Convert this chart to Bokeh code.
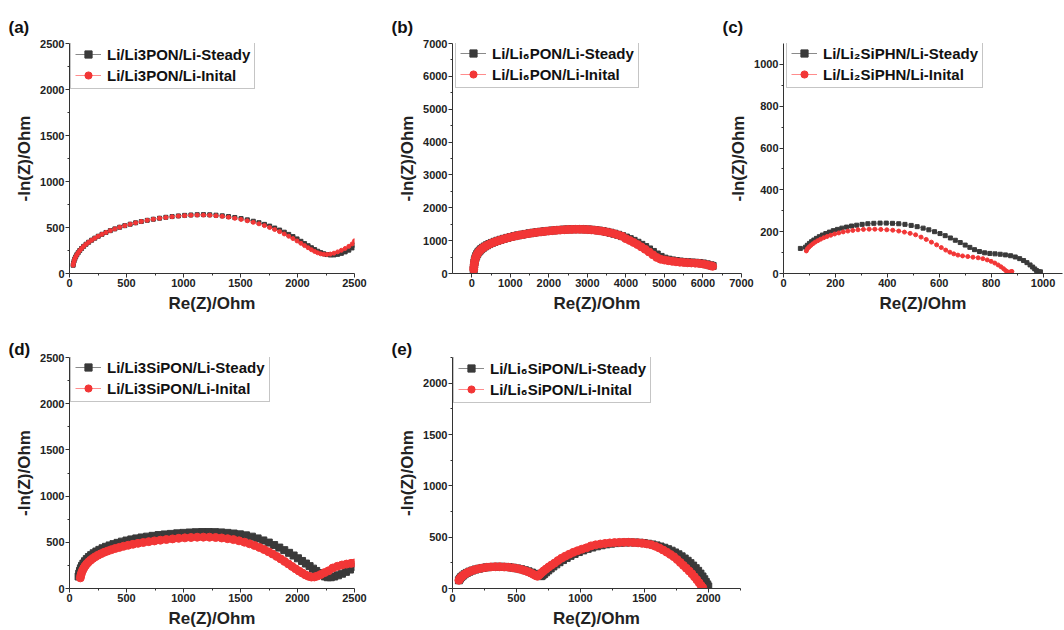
from bokeh.plotting import figure
from bokeh.layouts import row, column
from bokeh.models import FixedTicker, Range1d
from bokeh.embed import file_html
from bokeh.resources import INLINE

FONT = "Liberation Sans"
BLACK = "#3a3a3a"
RED = "#f23636"
BLACK_LINE = "#8a8a8a"
RED_LINE = "#ff8c8c"

# ---------------- (a) Li/Li3PON/Li ----------------
a_steady_x = [32, 35, 40, 46, 54, 64, 76, 90, 106, 124, 145, 168, 194, 222, 252, 285, 320, 358, 398, 440,
              485, 532, 580, 630, 682, 735, 790, 845, 900, 955, 1010, 1065, 1120, 1175, 1230, 1285, 1340,
              1395, 1450, 1505, 1560, 1612, 1662, 1710, 1756, 1800, 1843, 1884, 1923, 1960, 1996, 2030,
              2062, 2093, 2122, 2150, 2177, 2203, 2230, 2258, 2288, 2320, 2352, 2385, 2418, 2450, 2480, 2500]
a_steady_y = [90, 112, 135, 158, 180, 203, 226, 250, 272, 295, 318, 340, 362, 384, 405, 426, 446, 466, 485, 503,
              520, 536, 551, 565, 578, 590, 601, 611, 619, 626, 632, 636, 639, 640, 638, 634, 627,
              619, 609, 597, 583, 568, 552, 534, 515, 494, 472, 449, 425, 401, 376, 350,
              325, 302, 280, 260, 242, 227, 215, 206, 201, 202, 208, 219, 235, 254, 278, 308]
a_init_x = [32, 35, 40, 46, 54, 64, 76, 90, 106, 124, 145, 168, 194, 222, 252, 285, 320, 358, 398, 440,
            485, 532, 580, 630, 682, 735, 790, 845, 900, 955, 1010, 1065, 1120, 1175, 1230, 1285, 1340,
            1395, 1450, 1505, 1560, 1612, 1662, 1710, 1756, 1800, 1843, 1884, 1923, 1960, 1996, 2030,
            2062, 2093, 2122, 2150, 2177, 2203, 2230, 2258, 2288, 2320, 2352, 2385, 2418, 2450, 2480, 2500]
a_init_y = [90, 112, 135, 158, 180, 203, 226, 250, 272, 295, 318, 340, 362, 384, 405, 426, 446, 466, 485, 503,
            520, 536, 551, 565, 578, 590, 600, 609, 617, 624, 629, 633, 635, 635, 633, 628, 621,
            612, 600, 588, 573, 556, 540, 521, 500, 478, 455, 430, 405, 380, 354, 328,
            303, 280, 259, 240, 225, 214, 208, 207, 211, 221, 235, 252, 272, 295, 322, 355]

# ---------------- (b) Li/Li6PON/Li ----------------
b_x = [50, 55, 62, 70, 80, 95, 115, 140, 170, 205, 245, 290, 340, 395, 455, 520, 590, 665, 745, 830, 920,
       1010, 1105, 1200, 1300, 1400, 1500, 1600, 1700, 1800, 1900, 2000, 2100, 2200, 2300, 2400, 2500,
       2600, 2700, 2800, 2900, 3000, 3100, 3200, 3300, 3400, 3500, 3600, 3700, 3800, 3900, 4000, 4100,
       4200, 4300, 4400, 4500, 4600, 4700, 4800, 4900, 5000, 5100, 5200, 5300, 5400, 5500, 5600, 5700,
       5800, 5900, 6000, 6100, 6200, 6250]
b_steady_y = [125, 195, 265, 335, 400, 465, 530, 590, 645, 695, 740, 783, 823, 860, 895, 930, 963, 995,
              1025, 1055, 1084, 1111, 1137, 1161, 1183, 1204, 1224, 1242, 1258, 1272, 1286, 1298, 1309,
              1319, 1328, 1336, 1342, 1346, 1348, 1348, 1346, 1341, 1333, 1322, 1307, 1289, 1267, 1241,
              1211, 1177, 1138, 1094, 1046, 993, 935, 872, 804, 732, 656, 578, 505, 452, 420, 398, 380,
              364, 351, 341, 333, 327, 320, 305, 278, 248, 230]
b_init_y = [120, 190, 260, 330, 395, 460, 525, 585, 640, 690, 735, 778, 818, 855, 890, 925, 958, 990,
            1020, 1050, 1080, 1108, 1134, 1158, 1180, 1200, 1220, 1238, 1254, 1268, 1282, 1294, 1305,
            1315, 1324, 1332, 1338, 1342, 1344, 1344, 1342, 1337, 1329, 1318, 1303, 1285, 1263, 1237,
            1207, 1173, 1134, 1060, 1005, 945, 880, 810, 735, 655, 570, 490, 435, 410, 390, 372, 357,
            345, 335, 328, 322, 315, 305, 290, 265, 235, 220]

# ---------------- (c) Li/Li2SiPHN/Li ----------------
c_steady_x = [65, 85, 92, 100, 108, 117, 127, 138, 150, 163, 177, 192, 208, 225, 243, 262, 282, 303, 325,
              348, 372, 396, 420, 444, 468, 492, 515, 538, 560, 582, 603, 623, 643, 662, 681, 700, 718,
              736, 755, 775, 795, 815, 835, 855, 875, 893, 910, 925, 938, 950, 960, 968, 975, 982, 990]
c_steady_y = [120, 126, 135, 144, 152, 160, 168, 176, 184, 191, 198, 205, 211, 217, 222, 227, 231, 235, 238,
              240, 241, 241, 240, 238, 235, 230, 224, 217, 209, 200, 191, 181, 170, 159, 148, 136, 125,
              114, 105, 99, 96, 94, 92, 89, 85, 79, 71, 62, 52, 41, 31, 22, 14, 9, 8]
c_init_x = [88, 92, 98, 105, 113, 122, 132, 143, 155, 168, 182, 197, 213, 230, 248, 267, 287, 308, 330,
            352, 375, 398, 421, 444, 466, 488, 509, 530, 550, 570, 590, 608, 625, 641, 656, 672, 690,
            710, 730, 750, 768, 785, 800, 814, 827, 838, 848, 856, 862, 868, 875, 880]
c_init_y = [108, 118, 126, 134, 142, 150, 157, 164, 171, 177, 183, 189, 194, 199, 203, 206, 209, 211, 212,
            212, 211, 209, 207, 203, 198, 192, 185, 174, 163, 150, 137, 124, 112, 102, 94, 88, 84,
            81, 78, 75, 71, 65, 58, 50, 41, 32, 23, 14, 8, 6, 8, 10]

# ---------------- (d) Li/Li3SiPON/Li ----------------
d_steady_x = [80, 85, 92, 100, 110, 122, 136, 152, 170, 190, 212, 236, 262, 290, 320, 352, 386, 422, 460,
              500, 542, 586, 632, 680, 730, 782, 835, 890, 945, 1000, 1055, 1110, 1165, 1220, 1275, 1330,
              1385, 1440, 1495, 1548, 1600, 1650, 1700, 1748, 1795, 1840, 1884, 1926, 1966, 2004, 2040,
              2074, 2106, 2136, 2164, 2190, 2215, 2240, 2265, 2292, 2322, 2355, 2390, 2425, 2460, 2500]
d_steady_y = [130, 160, 190, 218, 245, 270, 295, 318, 340, 361, 381, 400, 418, 435, 451, 466, 480, 494, 507,
              519, 531, 542, 552, 561, 570, 578, 585, 591, 597, 602, 606, 609, 611, 611, 610, 607,
              602, 595, 586, 575, 561, 542, 520, 497, 470, 443, 415, 386, 357, 327, 298,
              270, 242, 215, 190, 167, 147, 131, 122, 122, 130, 143, 160, 180, 205, 235]
d_init_x = [95, 100, 107, 115, 125, 137, 151, 167, 185, 205, 227, 251, 277, 305, 335, 367, 401, 437, 475,
            515, 557, 601, 647, 695, 745, 797, 850, 904, 958, 1012, 1066, 1120, 1174, 1228, 1282, 1335,
            1387, 1438, 1487, 1535, 1580, 1624, 1666, 1706, 1745, 1782, 1818, 1853, 1887, 1920, 1952,
            1983, 2013, 2042, 2070, 2097, 2122, 2148, 2175, 2205, 2238, 2273, 2310, 2350, 2390, 2430,
            2470, 2500]
d_init_y = [115, 145, 172, 197, 221, 244, 266, 287, 307, 326, 344, 361, 377, 392, 406, 420, 433, 445, 457,
            468, 479, 489, 498, 507, 515, 523, 530, 537, 543, 548, 552, 555, 556, 555, 552, 547,
            539, 529, 516, 501, 484, 465, 444, 422, 398, 373, 347, 320, 293, 266, 239,
            213, 189, 167, 147, 132, 124, 125, 135, 152, 172, 192, 222, 240, 254, 264,
            272, 276]

# ---------------- (e) Li/Li6SiPON/Li ----------------
e_steady_x = [50, 58, 68, 80, 95, 112, 132, 155, 180, 207, 236, 267, 300, 334, 369, 404, 439, 473, 506,
              537, 566, 594, 620, 643, 663, 680, 692, 703, 716, 731, 748, 767, 788, 811, 836, 863, 892,
              922, 954, 987, 1021, 1056, 1092, 1128, 1165, 1202, 1239, 1276, 1313, 1350, 1387, 1424,
              1460, 1495, 1529, 1562, 1594, 1625, 1655, 1684, 1712, 1739, 1765, 1790, 1814, 1837, 1859,
              1880, 1900, 1919, 1937, 1953, 1967, 1979, 1990, 1998]
e_steady_y = [80, 96, 111, 125, 139, 152, 164, 175, 185, 193, 200, 206, 210, 212, 212, 211, 208, 203, 196,
              188, 178, 167, 155, 143, 132, 124, 120, 128, 142, 158, 176, 195, 215, 235, 256, 277, 298,
              318, 337, 355, 371, 386, 399, 411, 421, 430, 437, 442, 446, 448, 449, 448,
              446, 442, 436, 429, 420, 409, 397, 383, 368, 351, 333, 313, 292, 270, 247,
              223, 198, 172, 145, 117, 90, 64, 40, 20]
e_init_x = [50, 58, 68, 80, 95, 112, 132, 155, 180, 207, 236, 267, 300, 334, 369, 404, 439, 473, 506,
            537, 566, 592, 615, 634, 650, 662, 672, 684, 698, 714, 732, 752, 774, 798, 824, 852, 881,
            912, 944, 977, 1011, 1046, 1082, 1118, 1155, 1192, 1229, 1266, 1303, 1340, 1377, 1414,
            1450, 1485, 1519, 1552, 1584, 1615, 1645, 1674, 1702, 1729, 1755, 1780, 1804, 1827, 1849,
            1870, 1890, 1909, 1927, 1943, 1955]
e_init_y = [80, 96, 111, 125, 139, 152, 164, 175, 185, 193, 200, 206, 210, 212, 212, 210, 207, 201, 194,
            185, 174, 162, 149, 137, 126, 120, 126, 140, 156, 173, 191, 210, 229, 248, 272, 295, 315,
            334, 352, 368, 383, 396, 415, 425, 433, 439, 444, 447, 449, 450, 450, 448,
            445, 441, 434, 426, 412, 395, 375, 354, 332, 310, 282, 253, 225, 197, 170,
            143, 114, 85, 56, 28, 8]

# ---------------- ticks ----------------
ticks_2500 = [0, 500, 1000, 1500, 2000, 2500]
minor_2500 = [250, 750, 1250, 1750, 2250]
ticks_7000 = [0, 1000, 2000, 3000, 4000, 5000, 6000, 7000]
minor_7000 = [500, 1500, 2500, 3500, 4500, 5500, 6500]
ticks_1000 = [0, 200, 400, 600, 800, 1000]
minor_1000 = [100, 300, 500, 700, 900]
ticks_2000 = [0, 500, 1000, 1500, 2000]
minor_2000 = [250, 750, 1250, 1750, 2250]

labels_a = ["Li/Li3PON/Li-Steady", "Li/Li3PON/Li-Inital"]
labels_b = ["Li/Li\u2086PON/Li-Steady", "Li/Li\u2086PON/Li-Inital"]
labels_c = ["Li/Li\u2082SiPHN/Li-Steady", "Li/Li\u2082SiPHN/Li-Inital"]
labels_d = ["Li/Li3SiPON/Li-Steady", "Li/Li3SiPON/Li-Inital"]
labels_e = ["Li/Li\u2086SiPON/Li-Steady", "Li/Li\u2086SiPON/Li-Inital"]

LEG_H = 47


def panel(letter, xr, yr, xt, xm, yt, ym, sx, sy, ix, iy, labels, msize, left, fw, right, top, fh, bottom,
          leg_dx, leg_above, title_standoff):
    p = figure(frame_width=fw, frame_height=fh, min_border_left=left, min_border_right=right,
               min_border_top=top, min_border_bottom=bottom,
               x_range=Range1d(*xr), y_range=Range1d(*yr),
               output_backend="svg", toolbar_location=None, tools="")
    p.xgrid.visible = False
    p.ygrid.visible = False
    p.outline_line_color = None
    p.border_fill_color = None
    p.background_fill_color = None

    p.line(sx, sy, line_color=BLACK_LINE, line_width=1, legend_label=labels[0])
    p.scatter(sx, sy, marker="square", size=msize[0], fill_color=BLACK, line_color=BLACK,
              legend_label=labels[0])
    p.line(ix, iy, line_color=RED_LINE, line_width=1, legend_label=labels[1])
    p.scatter(ix, iy, marker="circle", size=msize[1], fill_color=RED, line_color=RED,
              legend_label=labels[1])

    p.xaxis.ticker = FixedTicker(ticks=xt, minor_ticks=xm)
    p.yaxis.ticker = FixedTicker(ticks=yt, minor_ticks=ym)
    p.xaxis.axis_label = "Re(Z)/Ohm"
    p.yaxis.axis_label = "-In(Z)/Ohm"
    for ax in (p.xaxis[0], p.yaxis[0]):
        ax.axis_line_color = "#333333"
        ax.major_tick_line_color = "#333333"
        ax.minor_tick_line_color = "#333333"
        ax.major_tick_out = 4
        ax.major_tick_in = 0
        ax.minor_tick_out = 2
        ax.minor_tick_in = 0
        ax.major_label_text_font = FONT
        ax.major_label_text_font_size = "11px"
        ax.major_label_text_font_style = "bold"
        ax.major_label_text_color = "#222222"
        ax.axis_label_text_font = FONT
        ax.axis_label_text_font_size = "17px"
        ax.axis_label_text_font_style = "bold"
        ax.axis_label_text_color = "#222222"
        ax.major_label_standoff = 1
    p.xaxis[0].axis_label_standoff = 4
    p.yaxis[0].axis_label_standoff = 3

    lg = p.legend[0]
    lg.location = (leg_dx, fh + leg_above - LEG_H)
    lg.margin = 0
    lg.padding = 4
    lg.spacing = 3
    lg.glyph_width = 26
    lg.glyph_height = 18
    lg.label_height = 18
    lg.label_standoff = 6
    lg.label_text_font = FONT
    lg.label_text_font_size = "15px"
    lg.label_text_font_style = "bold"
    lg.label_text_color = "#111111"
    lg.border_line_color = "#8c8c8c"
    lg.border_line_width = 1
    lg.background_fill_color = "white"
    lg.background_fill_alpha = 1

    p.title.text = letter
    p.title.align = "left"
    p.title.offset = -61
    p.title.standoff = title_standoff
    p.title.text_font = FONT
    p.title.text_font_size = "17px"
    p.title.text_font_style = "bold"
    p.title.text_color = "#111111"
    return p


pa = panel("(a)", (0, 2500), (0, 2500), ticks_2500, minor_2500, ticks_2500, minor_2500,
           a_steady_x, a_steady_y, a_init_x, a_init_y, labels_a, (4, 4),
           69, 285, 36, 43, 230, 57, 1, 1, 14)
pb = panel("(b)", (-500, 7000), (0, 7000), ticks_7000, minor_7000, ticks_7000, minor_7000,
           b_x, b_steady_y, b_x, b_init_y, labels_b, (7, 8),
           62, 289, 20, 43, 230, 57, 3, 2, 14)
pc = panel("(c)", (0, 1075), (0, 1100), ticks_1000, minor_1000, ticks_1000, minor_1000,
           c_steady_x, c_steady_y, c_init_x, c_init_y, labels_c, (4, 4),
           62, 279, 1, 43, 230, 57, 3, 2, 14)
pc.margin = (0, 0, 0, -40)
pd = panel("(d)", (0, 2500), (0, 2500), ticks_2500, minor_2500, ticks_2500, minor_2500,
           d_steady_x, d_steady_y, d_init_x, d_init_y, labels_d, (7, 8),
           69, 285, 36, 27, 231, 41, 1, 2, -3)
pe = panel("(e)", (0, 2250), (0, 2250), ticks_2000, minor_2000, ticks_2000, minor_2000,
           e_steady_x, e_steady_y, e_init_x, e_init_y, labels_e, (7, 8),
           62, 288, 20, 27, 231, 41, 1, 1, -3)

layout = column(row(pa, pb, pc), row(pd, pe))
open("out.html", "w").write(file_html(layout, INLINE))
